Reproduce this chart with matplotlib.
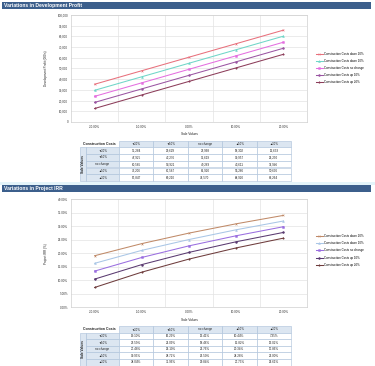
import matplotlib
matplotlib.use("Agg")
import matplotlib.pyplot as plt
import matplotlib.ticker as mticker
from matplotlib.patches import Rectangle

W, H = 375, 366
plt.rcParams["font.family"] = ["Liberation Sans", "DejaVu Sans"]

# ── Data ─────────────────────────────────────────────────────────────────────

SALE_LABELS = ["-20.00%", "-10.00%", "0.00%", "10.00%", "20.00%"]
STEP_LABELS = ["▼20%", "▼10%", "no change", "▲10%", "▲20%"]
SERIES_NAMES = ["Construction Costs down 20%", "Construction Costs down 10%",
                "Construction Costs no change", "Construction Costs up 10%",
                "Construction Costs up 20%"]

# rows = sale values change, cols = construction costs change
PROFIT_ROWS = [
    [35284, 29629, 23968, 18302, 12633],
    [47925, 42276, 36619, 30957, 25290],
    [60565, 54921, 49269, 43611, 37946],
    [73206, 67567, 61920, 56266, 50606],
    [85847, 80210, 74570, 68920, 63264],
]
IRR_ROWS = [
    [19.10, 16.29, 13.41, 10.44, 7.35],
    [23.59, 21.09, 18.46, 15.82, 13.02],
    [27.48, 25.10, 22.76, 20.34, 17.86],
    [30.93, 28.72, 26.50, 24.28, 22.00],
    [34.04, 31.96, 29.84, 27.73, 25.61],
]

PROFIT_COLORS = ["#e8707c", "#6fd6c8", "#e46fe0", "#9a55a2", "#8c3d5a"]
IRR_COLORS = ["#c08a68", "#a9c6e6", "#9a6ee0", "#5a3a70", "#6e3c3c"]
MARKERS = ["x", "^", "s", "o", "*"]

TITLE_BLUE = "#3c5f8c"
HEAD_BLUE = "#dce6f1"
BORDER = "#a9bfd9"
GRID = "#e3e3e3"


def fx(x):
    return x / W


def fy(y):
    return 1 - y / H


def make_chart(fig, top, bottom, rows, colors, ylabel, ymax, ystep, fmt, leg_y):
    ax = fig.add_axes([fx(71), fy(bottom), fx(307) - fx(71), fy(top) - fy(bottom)])
    xs = list(range(len(SALE_LABELS)))
    for j, name in enumerate(SERIES_NAMES):
        ax.plot(xs, [r[j] for r in rows], color=colors[j], lw=0.75,
                marker=MARKERS[j], markersize=1.3, markeredgewidth=0.4, label=name)
    ax.set_xlim(-0.5, 4.5)
    ax.set_ylim(0, ymax)
    ax.set_xticks(xs)
    ax.set_xticklabels(SALE_LABELS)
    ax.set_xticks([0.5, 1.5, 2.5, 3.5], minor=True)
    ax.yaxis.set_major_locator(mticker.MultipleLocator(ystep))
    ax.yaxis.set_major_formatter(mticker.FuncFormatter(fmt))
    ax.grid(axis="y", which="major", color=GRID, lw=0.5)
    ax.grid(axis="x", which="minor", color=GRID, lw=0.5)
    ax.tick_params(which="both", length=0, labelsize=2.2, pad=2, colors="#333333")
    ax.set_xlabel("Sale Values", fontsize=2.3, labelpad=2.5, color="#222222")
    ax.set_ylabel(ylabel, fontsize=2.2, color="#222222")
    ax.yaxis.set_label_coords(-0.097, 0.5)
    for s in ax.spines.values():
        s.set_color("#cfcfcf")
        s.set_linewidth(0.5)
    ax.legend(loc="center left", bbox_to_anchor=(1.03, leg_y), frameon=False,
              fontsize=2.1, borderpad=0, handlelength=2.6, handletextpad=0.4,
              labelspacing=1.1, markerscale=1.0)
    return ax


def title_bar(ov, y0, text):
    ov.add_patch(Rectangle((2, y0), 369, 7, facecolor=TITLE_BLUE, edgecolor="none"))
    ov.text(4, y0 + 3.6, text, color="white", fontsize=3.6, fontweight="bold",
            va="center", ha="left")


def draw_table(ov, top, rh, rows, fmt):
    x0, xs, xr = 80, 86, 119
    cw = (291 - xr) / 5
    lw = 0.4
    # corner
    ov.add_patch(Rectangle((x0, top), xr - x0, rh, facecolor="white",
                           edgecolor="none"))
    ov.text((x0 + xr) / 2, top + rh / 2, "Construction Costs", fontsize=2.5,
            fontweight="bold", ha="center", va="center", color="#222222")
    # column headers
    for j, lab in enumerate(STEP_LABELS):
        ov.add_patch(Rectangle((xr + j * cw, top), cw, rh, facecolor=HEAD_BLUE,
                               edgecolor=BORDER, lw=lw))
        ov.text(xr + (j + 0.5) * cw, top + rh / 2, lab, fontsize=2.2,
                ha="center", va="center", color="#222222")
    # vertical "Sale Values" cell
    ov.add_patch(Rectangle((x0, top + rh), xs - x0, 5 * rh, facecolor=HEAD_BLUE,
                           edgecolor=BORDER, lw=lw))
    ov.text((x0 + xs) / 2, top + rh * 3.5, "Sale Values", fontsize=2.3,
            fontweight="bold", rotation=90, ha="center", va="center", color="#222222")
    for i, lab in enumerate(STEP_LABELS):
        y = top + (i + 1) * rh
        ov.add_patch(Rectangle((xs, y), xr - xs, rh, facecolor=HEAD_BLUE,
                               edgecolor=BORDER, lw=lw))
        ov.text((xs + xr) / 2, y + rh / 2, lab, fontsize=2.2, ha="center",
                va="center", color="#222222")
        for j, v in enumerate(rows[i]):
            ov.add_patch(Rectangle((xr + j * cw, y), cw, rh, facecolor="white",
                                   edgecolor=BORDER, lw=lw))
            ov.text(xr + (j + 0.5) * cw, y + rh / 2, fmt(v), fontsize=2.2,
                    ha="center", va="center", color="#222222")


fig = plt.figure(figsize=(W / 100, H / 100), dpi=100)
fig.patch.set_facecolor("white")

ov = fig.add_axes([0, 0, 1, 1], zorder=-1)
ov.set_xlim(0, W)
ov.set_ylim(H, 0)
ov.axis("off")

title_bar(ov, 1.5, "Variations in Development Profit")
make_chart(fig, 15, 122, PROFIT_ROWS, PROFIT_COLORS, "Development Profit (000's)",
           100000, 10000, lambda v, _: f"{v:,.0f}", 0.505)
draw_table(ov, 140.7, 6.7, PROFIT_ROWS, lambda v: f"{v:,.0f}")

ov.add_patch(Rectangle((0, 181.5), W, 3, facecolor="#e4f4fa", edgecolor="none"))

title_bar(ov, 185.3, "Variations in Project IRR")
make_chart(fig, 199.3, 307.3, IRR_ROWS, IRR_COLORS, "Project IRR (%)",
           40, 5, lambda v, _: f"{v:.2f}%", 0.526)
draw_table(ov, 326.2, 6.55, IRR_ROWS, lambda v: f"{v:.2f}%")

fig.savefig("out.png", dpi=100, facecolor="white")
